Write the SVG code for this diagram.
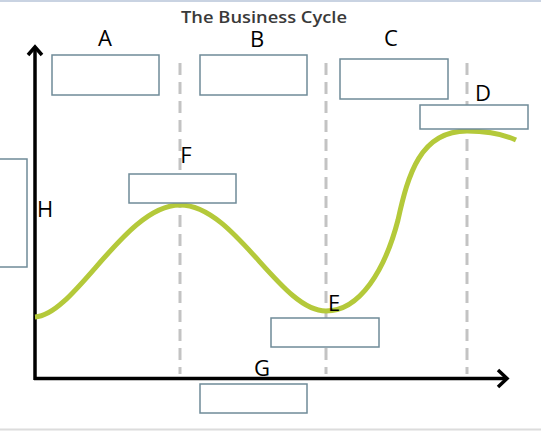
<svg xmlns="http://www.w3.org/2000/svg" width="541" height="431" viewBox="0 0 541 431">
<style>
.box{fill:#fff;stroke:#6f8b98;stroke-width:1.5}
.lbl{font-family:"Open Sans","Liberation Sans",sans-serif;font-size:22px;fill:#000}
.dash{stroke:#c3c3c3;stroke-width:3;stroke-dasharray:12,7;fill:none}
.axis{stroke:#000;stroke-width:3.5;fill:none}
</style>
<rect x="0" y="0" width="541" height="431" fill="#fff"/>
<line x1="0" y1="1" x2="541" y2="1" stroke="#c9d3e2" stroke-width="2"/>
<line x1="0" y1="429.5" x2="541" y2="429.5" stroke="#dcdcdc" stroke-width="2"/>
<text x="264" y="23" text-anchor="middle" font-family="'Open Sans','Liberation Sans',sans-serif" font-size="16" font-weight="600" fill="#3a3a3a" textLength="166" lengthAdjust="spacingAndGlyphs">The Business Cycle</text>
<g id="connectors">
<line class="dash" x1="180" y1="63" x2="180" y2="374"/>
<line class="dash" x1="326" y1="63" x2="326" y2="374"/>
<line class="dash" x1="467" y1="63" x2="467" y2="374"/>
<path class="axis" d="M35,380 V47"/>
<path class="axis" d="M28,55 L35,47 L42,55"/>
<path class="axis" d="M34,378.5 H507"/>
<path class="axis" d="M498,370 L507,378.5 L498,387"/>
<path d="M35,317 C75,315 125,205 180,205 C235,205 280,311 326,311 C360,311 385,270 398,220 C408,175 420,131 467,131 C490,131 505,135 516,140" fill="none" stroke="#b4c93a" stroke-width="5"/>
</g>
<g id="nodeA"><rect class="box" x="52" y="55" width="107" height="40"/><text class="lbl" x="105" y="46" text-anchor="middle">A</text></g>
<g id="nodeB"><rect class="box" x="200" y="55" width="107" height="40"/><text class="lbl" x="257" y="47" text-anchor="middle">B</text></g>
<g id="nodeC"><rect class="box" x="340" y="59" width="108" height="40"/><text class="lbl" x="391" y="46" text-anchor="middle">C</text></g>
<g id="nodeD"><rect class="box" x="420" y="105" width="108" height="24"/><text class="lbl" x="483" y="101" text-anchor="middle">D</text></g>
<g id="nodeF"><rect class="box" x="129" y="174" width="107" height="29"/><text class="lbl" x="186" y="163" text-anchor="middle">F</text></g>
<g id="nodeH"><rect class="box" x="-2" y="159" width="29" height="108"/><text class="lbl" x="45" y="217" text-anchor="middle">H</text></g>
<g id="nodeE"><rect class="box" x="271" y="318" width="108" height="29"/><text class="lbl" x="334" y="311" text-anchor="middle">E</text></g>
<g id="nodeG"><rect class="box" x="200" y="384" width="107" height="29"/><text class="lbl" x="262" y="376" text-anchor="middle">G</text></g>
</svg>
